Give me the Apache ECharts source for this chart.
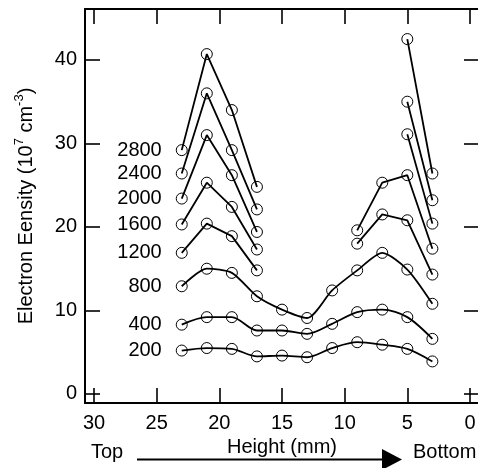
<!DOCTYPE html>
<html>
<head>
<meta charset="utf-8">
<script src="https://cdn.jsdelivr.net/npm/echarts@6/dist/echarts.min.js"></script>
<style>html,body{margin:0;padding:0;background:#fff}#main{width:478px;height:468px}</style>
</head>
<body>
<div id="main"></div>
<script>
var myChart = echarts.init(document.getElementById('main'));

// heights (mm) where density was measured
var heights = [23, 21, 19, 17, 15, 13, 11, 9, 7, 5, 3];
var names = ['200', '400', '800', '1200', '1600', '2000', '2400', '2800'];
var xTicks = [0, 5, 10, 15, 20, 25, 30];
var yTicks = [0, 10, 20, 30, 40];

// electron density, 10^7 cm^-3 (null = not measured)
var d200  = [5.2, 5.5, 5.4, 4.5, 4.6, 4.4, 5.5, 6.2, 5.9, 5.4, 3.9];
var d400  = [8.3, 9.2, 9.2, 7.6, 7.6, 7.2, 8.4, 9.8, 10.1, 9.2, 6.6];
var d800  = [12.9, 15.0, 14.5, 11.7, 10.1, 9.1, 12.4, 14.8, 16.9, 14.9, 10.8];
var d1200 = [16.9, 20.4, 18.9, 14.8, null, null, null, 18.0, 21.5, 20.8, 14.3];
var d1600 = [20.3, 25.3, 22.4, 17.3, null, null, null, 19.6, 25.3, 26.2, 17.4];
var d2000 = [23.4, 31.0, 26.2, 19.4, null, null, null, null, null, 31.1, 20.4];
var d2400 = [26.4, 36.0, 29.2, 22.1, null, null, null, null, null, 35.0, 23.2];
var d2800 = [29.2, 40.7, 34.0, 24.8, null, null, null, null, null, 42.5, 26.4];

var allData = [d200, d400, d800, d1200, d1600, d2000, d2400, d2800];
var smoothing = [0.3, 0.3, 0.25, 0, 0, 0, 0, 0];

var font = 'Liberation Sans, Arial, Helvetica, sans-serif';

var series = allData.map(function (vals, i) {
    return {
        name: names[i],
        type: 'line',
        smooth: smoothing[i] || false,
        symbol: 'circle',
        symbolSize: 11,
        itemStyle: { color: 'rgba(0,0,0,0)', borderColor: '#000', borderWidth: 1 },
        lineStyle: { color: '#000', width: 1.8 },
        label: {
            show: true,
            position: 'left',
            distance: 14,
            color: '#000',
            fontSize: 20,
            fontFamily: font,
            formatter: function (p) { return p.dataIndex === 0 ? p.seriesName : ''; }
        },
        emphasis: { disabled: true },
        data: heights.map(function (h, j) {
            return [h, vals[j] == null ? '-' : vals[j]];
        })
    };
});

function xAx(pos, labels) {
    return {
        type: 'value',
        position: pos,
        inverse: true,
        min: -0.72,
        max: 30.72,
        axisLine: { show: true, onZero: false, lineStyle: { color: '#000', width: 2 } },
        axisTick: { show: true, inside: true, length: 15, customValues: xTicks, lineStyle: { color: '#000', width: 1.6 } },
        axisLabel: { show: labels, customValues: xTicks, margin: 10, fontSize: 20, color: '#000', fontFamily: font },
        splitLine: { show: false }
    };
}
function yAx(pos, labels) {
    return {
        type: 'value',
        position: pos,
        min: -1.08,
        max: 46.1,
        axisLine: { show: true, onZero: false, lineStyle: { color: '#000', width: 2 } },
        axisTick: { show: true, inside: true, length: 15, customValues: yTicks, lineStyle: { color: '#000', width: 1.6 } },
        axisLabel: { show: labels, customValues: yTicks, margin: 8, fontSize: 20, color: '#000', fontFamily: font },
        splitLine: { show: false }
    };
}

var xBottom = xAx('bottom', true);
xBottom.name = 'Height (mm)';
xBottom.nameLocation = 'middle';
xBottom.nameGap = 25;
xBottom.nameTextStyle = { fontSize: 20, color: '#000', fontFamily: font };

var yLeft = yAx('left', true);
yLeft.name = '{n|Electron Eensity (10}{s|7}{n| cm}{s|-3}{n|)}';
yLeft.nameLocation = 'middle';
yLeft.nameGap = 46;
yLeft.nameTextStyle = {
    rich: {
        n: { fontSize: 20, color: '#000', fontFamily: font, lineHeight: 26 },
        s: { fontSize: 13, color: '#000', fontFamily: font, verticalAlign: 'top', lineHeight: 13 }
    }
};

option = {
    animation: false,
    backgroundColor: '#fff',
    grid: { left: 85, right: -1, top: 9, bottom: 65, containLabel: false, outerBoundsMode: 'none' },
    xAxis: [xBottom, xAx('top', false)],
    yAxis: [yLeft, yAx('right', false)],
    series: series,
    graphic: [
        { type: 'text', left: 91, top: 442, style: { text: 'Top', fontSize: 20, fill: '#000', fontFamily: font } },
        { type: 'text', left: 413, top: 442, style: { text: 'Bottom', fontSize: 20, fill: '#000', fontFamily: font } },
        { type: 'line', shape: { x1: 137, y1: 459.5, x2: 384, y2: 459.5 }, style: { stroke: '#000', lineWidth: 2 } },
        { type: 'polygon', shape: { points: [[382, 449], [402, 459.5], [382, 470]] }, style: { fill: '#000' } }
    ]
};

myChart.setOption(option);
</script>
</body>
</html>
